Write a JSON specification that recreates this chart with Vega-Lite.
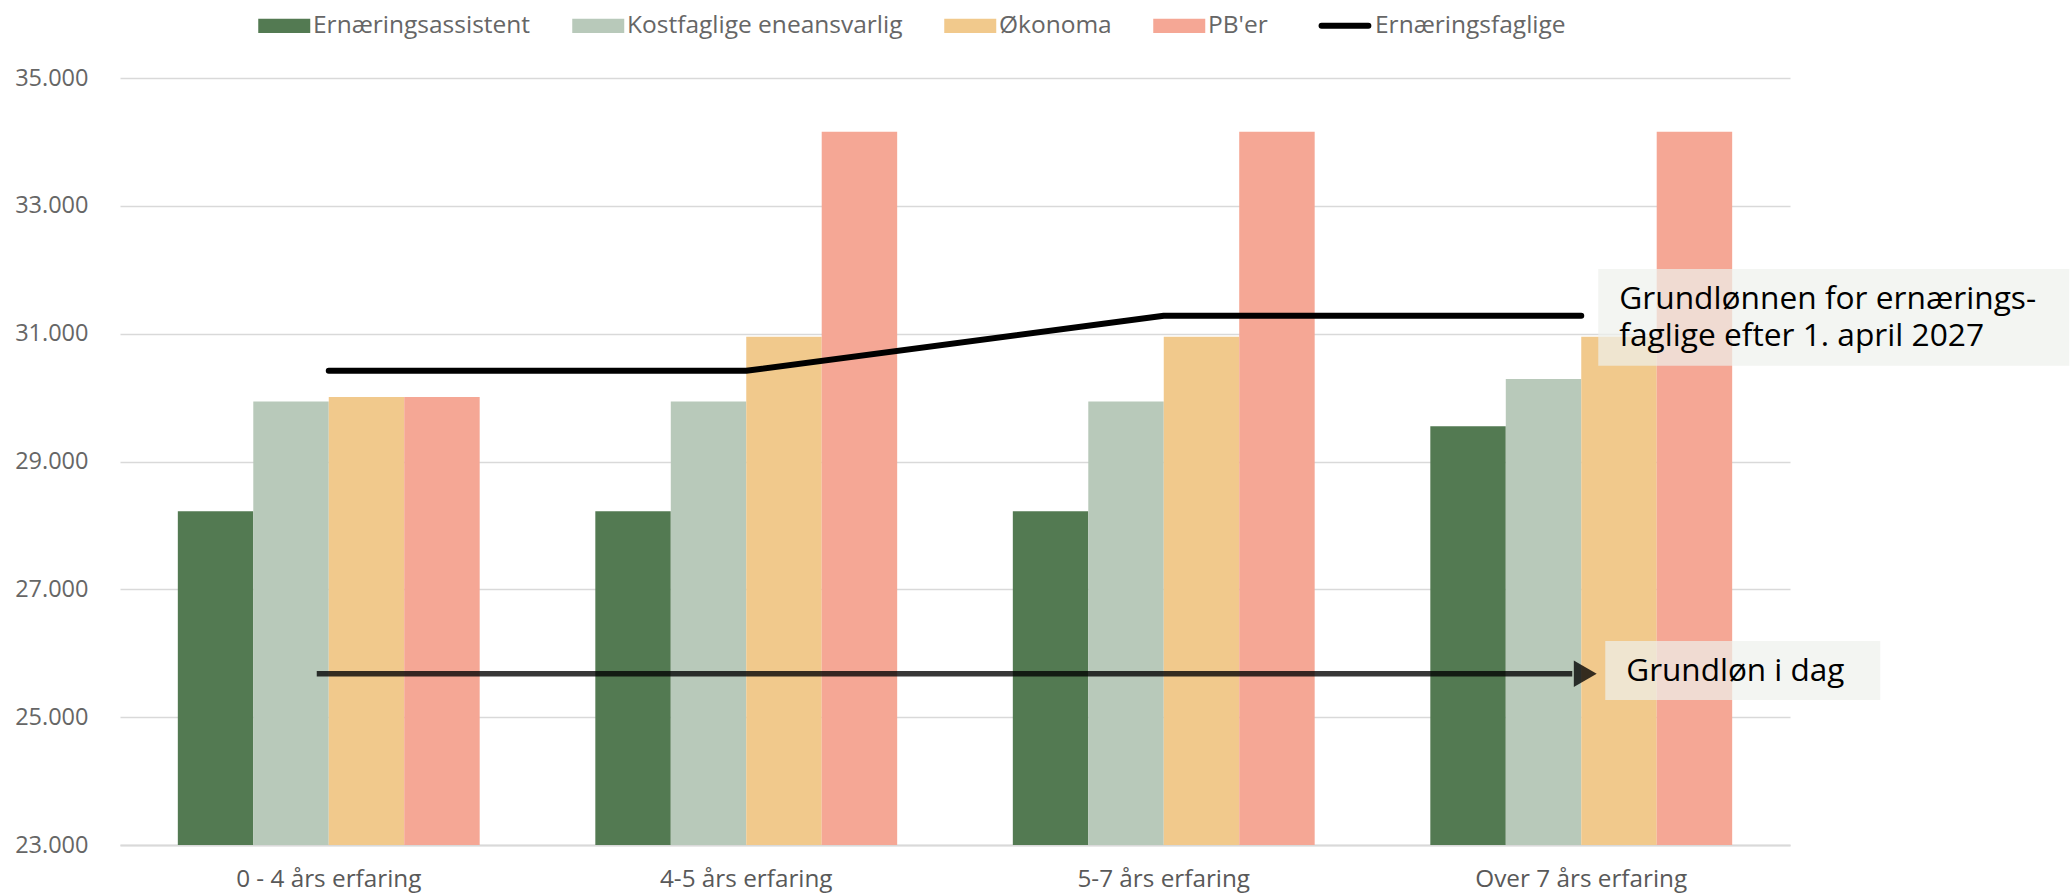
{
  "$schema": "https://vega.github.io/schema/vega-lite/v6.json",
  "width": 1670,
  "height": 767,
  "autosize": {"type": "none"},
  "padding": {"left": 120, "top": 78, "right": 280, "bottom": 48},
  "background": "white",
  "config": {
    "font": "Open Sans",
    "view": {"stroke": null}
  },
  "datasets": {
    "bars": [
      {"cat": "0 - 4 års erfaring", "series": "Ernæringsassistent", "value": 28220},
      {"cat": "0 - 4 års erfaring", "series": "Kostfaglige eneansvarlig", "value": 29940},
      {"cat": "0 - 4 års erfaring", "series": "Økonoma", "value": 30010},
      {"cat": "0 - 4 års erfaring", "series": "PB'er", "value": 30010},
      {"cat": "4-5 års erfaring", "series": "Ernæringsassistent", "value": 28220},
      {"cat": "4-5 års erfaring", "series": "Kostfaglige eneansvarlig", "value": 29940},
      {"cat": "4-5 års erfaring", "series": "Økonoma", "value": 30950},
      {"cat": "4-5 års erfaring", "series": "PB'er", "value": 34160},
      {"cat": "5-7 års erfaring", "series": "Ernæringsassistent", "value": 28220},
      {"cat": "5-7 års erfaring", "series": "Kostfaglige eneansvarlig", "value": 29940},
      {"cat": "5-7 års erfaring", "series": "Økonoma", "value": 30950},
      {"cat": "5-7 års erfaring", "series": "PB'er", "value": 34160},
      {"cat": "Over 7 års erfaring", "series": "Ernæringsassistent", "value": 29550},
      {"cat": "Over 7 års erfaring", "series": "Kostfaglige eneansvarlig", "value": 30290},
      {"cat": "Over 7 års erfaring", "series": "Økonoma", "value": 30950},
      {"cat": "Over 7 års erfaring", "series": "PB'er", "value": 34160}
    ],
    "line": [
      {"cat": "0 - 4 års erfaring", "series": "Ernæringsfaglige", "value": 30420},
      {"cat": "4-5 års erfaring", "series": "Ernæringsfaglige", "value": 30420},
      {"cat": "5-7 års erfaring", "series": "Ernæringsfaglige", "value": 31280},
      {"cat": "Over 7 års erfaring", "series": "Ernæringsfaglige", "value": 31280}
    ],
    "arrow": [
      {"from": "0 - 4 års erfaring", "to": "Over 7 års erfaring", "value": 25680}
    ],
    "notes": [
      {"id": "ny", "cat": "Over 7 års erfaring", "top": 32010, "bottom": 30500, "textY": 31390, "text": ["Grundlønnen for ernærings-", "faglige efter 1. april 2027"]},
      {"id": "dag", "cat": "Over 7 års erfaring", "top": 26190, "bottom": 25270, "textY": 25560, "text": "Grundløn i dag"}
    ]
  },
  "layer": [
    {
      "data": {"name": "bars"},
      "mark": {"type": "bar", "clip": true},
      "encoding": {
        "x": {
          "field": "cat", "type": "nominal",
          "scale": {"domain": ["0 - 4 års erfaring", "4-5 års erfaring", "5-7 års erfaring", "Over 7 års erfaring"], "paddingInner": 0.277, "paddingOuter": 0.1385},
          "axis": {"title": null, "labelAngle": 0, "labelFontSize": 24.3, "labelColor": "#595959", "labelPadding": 22, "labelLimit": 500, "ticks": false, "domainColor": "#d9d9d9", "domainWidth": 2, "grid": false}
        },
        "xOffset": {
          "field": "series", "type": "nominal",
          "scale": {"domain": ["Ernæringsassistent", "Kostfaglige eneansvarlig", "Økonoma", "PB'er"]}
        },
        "y": {
          "field": "value", "type": "quantitative",
          "scale": {"domain": [23000, 35000], "zero": false, "nice": false},
          "axis": {"title": null, "values": [23000, 25000, 27000, 29000, 31000, 33000, 35000], "labelExpr": "replace(format(datum.value, ','), ',', '.')", "labelFontSize": 23.5, "labelColor": "#666666", "labelPadding": 32, "ticks": false, "domain": false, "gridColor": "#d9d9d9", "gridWidth": 1.5}
        },
        "color": {
          "field": "series", "type": "nominal",
          "scale": {"domain": ["Ernæringsassistent", "Kostfaglige eneansvarlig", "Økonoma", "PB'er", "Ernæringsfaglige"], "range": ["#537a52", "#b8c9ba", "#f1c98c", "#f5a795", "#000000"]},
          "legend": {
            "orient": "none", "legendX": 152, "legendY": -65, "direction": "horizontal", "columns": 5,
            "title": null, "labelFontSize": 24.5, "labelColor": "#666666", "labelOffset": 16.5, "labelLimit": 500, "columnPadding": 41,
            "symbolSize": 2704,
            "encode": {
              "symbols": {
                "update": {
                  "shape": {"signal": "datum.value === 'Ernæringsfaglige' ? 'M-0.95,0L0.85,0' : 'M-1,-0.27L1,-0.27L1,0.27L-1,0.27Z'"},
                  "fill": {"signal": "datum.value === 'Ernæringsfaglige' ? 'transparent' : scale('color', datum.value)"},
                  "stroke": {"signal": "datum.value === 'Ernæringsfaglige' ? '#000000' : 'transparent'"},
                  "strokeWidth": {"signal": "datum.value === 'Ernæringsfaglige' ? 6 : 0"},
                  "strokeCap": {"value": "round"},
                  "opacity": {"value": 1}
                }
              }
            }
          }
        }
      }
    },
    {
      "data": {"name": "line"},
      "mark": {"type": "line", "strokeWidth": 6, "strokeCap": "round", "strokeJoin": "round"},
      "encoding": {
        "x": {"field": "cat", "type": "nominal"},
        "y": {"field": "value", "type": "quantitative"},
        "color": {"field": "series", "type": "nominal"}
      }
    },
    {
      "data": {"name": "arrow"},
      "mark": {"type": "rule", "color": "#000000", "opacity": 0.78, "strokeWidth": 5.5, "xOffset": -12, "x2Offset": -9},
      "encoding": {
        "x": {"field": "from", "type": "nominal"},
        "x2": {"field": "to"},
        "y": {"field": "value", "type": "quantitative"}
      }
    },
    {
      "data": {"name": "arrow"},
      "mark": {"type": "point", "shape": "triangle-right", "filled": true, "size": 700, "color": "#000000", "opacity": 0.78, "xOffset": 4},
      "encoding": {
        "x": {"field": "to", "type": "nominal"},
        "y": {"field": "value", "type": "quantitative"}
      }
    },
    {
      "data": {"name": "notes"},
      "transform": [{"filter": "datum.id === 'ny'"}],
      "mark": {"type": "bar", "width": 471, "xOffset": 252.5, "color": "#eef1ec", "opacity": 0.7},
      "encoding": {
        "x": {"field": "cat", "type": "nominal"},
        "y": {"field": "top", "type": "quantitative"},
        "y2": {"field": "bottom"}
      }
    },
    {
      "data": {"name": "notes"},
      "transform": [{"filter": "datum.id === 'dag'"}],
      "mark": {"type": "bar", "width": 275, "xOffset": 161.5, "color": "#eef1ec", "opacity": 0.7},
      "encoding": {
        "x": {"field": "cat", "type": "nominal"},
        "y": {"field": "top", "type": "quantitative"},
        "y2": {"field": "bottom"}
      }
    },
    {
      "data": {"name": "notes"},
      "transform": [{"filter": "datum.id === 'ny'"}],
      "mark": {"type": "text", "align": "left", "baseline": "alphabetic", "dx": 38, "fontSize": 31.7, "lineHeight": 37.5, "color": "#000000"},
      "encoding": {
        "x": {"field": "cat", "type": "nominal"},
        "y": {"field": "textY", "type": "quantitative"},
        "text": {"field": "text"}
      }
    },
    {
      "data": {"name": "notes"},
      "transform": [{"filter": "datum.id === 'dag'"}],
      "mark": {"type": "text", "align": "left", "baseline": "alphabetic", "dx": 45, "fontSize": 31.5, "color": "#000000"},
      "encoding": {
        "x": {"field": "cat", "type": "nominal"},
        "y": {"field": "textY", "type": "quantitative"},
        "text": {"field": "text"}
      }
    }
  ]
}
